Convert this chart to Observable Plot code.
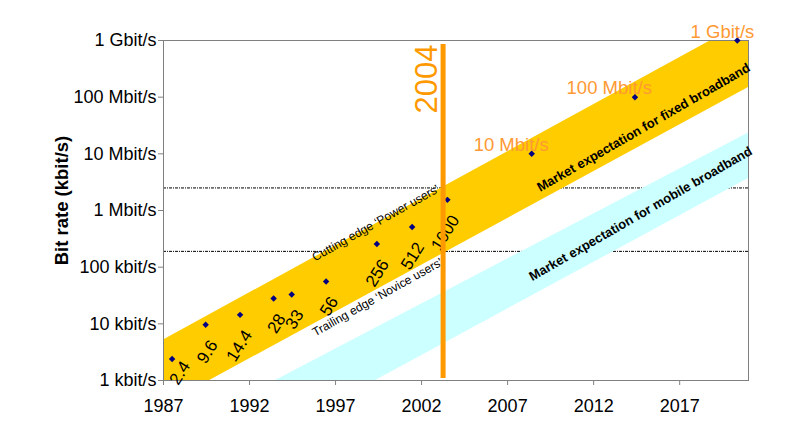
<!DOCTYPE html>
<html><head><meta charset="utf-8">
<script src="https://cdn.jsdelivr.net/npm/d3@7"></script>
<script src="https://cdn.jsdelivr.net/npm/@observablehq/plot@0.6"></script>
<style>
html,body{margin:0;padding:0;background:#fff;}
#chart{width:800px;height:441px;}
</style>
</head><body><div id="chart"></div>
<script>
// ---- axis ticks ----
const yTickValues = [1, 10, 100, 1000, 10000, 100000, 1000000];
const yTickLabels = ["1 kbit/s", "10 kbit/s", "100 kbit/s", "1 Mbit/s", "10 Mbit/s", "100 Mbit/s", "1 Gbit/s"];
const xTickValues = [1987, 1992, 1997, 2002, 2007, 2012, 2017];

// ---- modem / early broadband data points (kbit/s) ----
const modemYears  = [1987.5, 1989.45, 1991.45, 1993.4, 1994.45, 1996.45, 1999.4, 2001.45, 2003.5];
const modemRates  = [2.4, 9.6, 14.4, 28, 33, 56, 256, 512, 1540];
const modemLabels = ["2.4", "9.6", "14.4", "28", "33", "56", "256", "512", "1000"];

// ---- future broadband points (kbit/s) ----
const fastYears  = [2008.4, 2014.4, 2020.35];
const fastRates  = [10000, 100000, 1000000];
const fastLabels = ["10 Mbit/s", "100 Mbit/s", "1 Gbit/s"];

// ---- expectation bands (kbit/s) ----
const bandYears  = [1987, 2021];
const fixedLow   = [0.36, 148000];
const fixedHigh  = [5.2, 2300000];
const mobileLow  = [0.0094, 3660];
const mobileHigh = [0.092, 23400];

// ---- reference levels (kbit/s) ----
const thresholdRates = [2500, 190];

// ---- milestone ----
const milestoneYears  = [2003.25];
const milestoneBottom = [1.08];
const milestoneTop    = [850000];
const milestoneLabels = ["2004"];

// ---- band annotations ----
const noteYears  = [1999.33, 1999.44];
const noteRates  = [600, 29.5];
const noteTexts  = ["Cutting edge \u2018Power users\u2019", "Trailing edge \u2018Novice users\u2019"];
const boldYears  = [2014.9, 2014.73];
const boldRates  = [29000, 871];
const boldTexts  = ["Market expectation for fixed broadband", "Market expectation for mobile broadband"];

const FONT = "'Liberation Sans', Arial, Helvetica, sans-serif";

const fixedBand  = bandYears.map((y, i) => ({year: y, low: fixedLow[i], high: fixedHigh[i]}));
const mobileBand = bandYears.map((y, i) => ({year: y, low: mobileLow[i], high: mobileHigh[i]}));
const modem = modemYears.map((y, i) => ({year: y, rate: modemRates[i], label: modemLabels[i], first: i === 0}));
const fast  = fastYears.map((y, i) => ({year: y, rate: fastRates[i], label: fastLabels[i]}));
const milestone = milestoneYears.map((y, i) => ({year: y, bottom: milestoneBottom[i], top: milestoneTop[i], label: milestoneLabels[i]}));
const notes = noteYears.map((y, i) => ({year: y, rate: noteRates[i], text: noteTexts[i]}));
const bolds = boldYears.map((y, i) => ({year: y, rate: boldRates[i], text: boldTexts[i]}));

const labelOpts = {x: "year", y: "rate", text: "label", rotate: -58, textAnchor: "end", fontSize: 17, fill: "black"};

const chart = Plot.plot({
  width: 800,
  height: 441,
  marginLeft: 163,
  marginRight: 52,
  marginTop: 40,
  marginBottom: 61,
  style: {fontFamily: FONT, fontSize: "18px", background: "#fff", color: "black"},
  x: {domain: [1987, 2021]},
  y: {type: "log", domain: [1, 1000000]},
  marks: [
    Plot.ruleY(thresholdRates, {stroke: "black", strokeWidth: 1, strokeDasharray: "3,1,1,1"}),
    Plot.areaY(fixedBand, {x: "year", y1: "low", y2: "high", fill: "#FFCC00", clip: true}),
    Plot.areaY(mobileBand, {x: "year", y1: "low", y2: "high", fill: "#CCFFFF", clip: true}),
    Plot.axisY(yTickValues, {tickFormat: d => yTickLabels[yTickValues.indexOf(d)], tickSize: 5, tickPadding: 2, stroke: "#808080", fill: "black", fontSize: 18, label: null}),
    Plot.axisX(xTickValues, {tickFormat: d => String(d), tickSize: 5, tickPadding: 14, stroke: "#808080", fill: "black", fontSize: 18, label: null}),
    Plot.frame({stroke: "#808080"}),
    Plot.text(notes, {x: "year", y: "rate", text: "text", rotate: -29.3, fontSize: 12, fill: "black"}),
    Plot.text(bolds, {x: "year", y: "rate", text: "text", rotate: -30, fontSize: 13, fontWeight: "bold", fill: "black"}),
    Plot.text(modem, {...labelOpts, filter: d => !d.first, dx: 8, dy: 17}),
    Plot.text(modem, {...labelOpts, filter: d => d.first, dx: 14, dy: 4}),
    Plot.dot(modem, {x: "year", y: "rate", symbol: "diamond2", r: 2.9, fill: "#000080", stroke: "none"}),
    Plot.dot(fast, {x: "year", y: "rate", symbol: "diamond2", r: 2.9, fill: "#000080", stroke: "none"}),
    Plot.ruleX(milestone, {x: "year", y1: "bottom", y2: "top", stroke: "#FF9900", strokeWidth: 5}),
    Plot.text(milestone, {x: "year", y: "top", text: "label", rotate: -90, textAnchor: "end", dx: -16.5, fontSize: 31, fill: "#FF9900"}),
    Plot.text(fast, {x: "year", y: "rate", text: "label", textAnchor: "end", lineAnchor: "bottom", dx: 17, dy: -3, fontSize: 18.5, fill: "#FF9933"}),
    Plot.text(["Bit rate (kbit/s)"], {text: d => d, frameAnchor: "left", textAnchor: "middle", rotate: -90, dx: -101, dy: -10, fontSize: 18.5, fontWeight: "bold", fill: "black"})
  ]
});
document.getElementById("chart").appendChild(chart);
</script>
</body></html>
